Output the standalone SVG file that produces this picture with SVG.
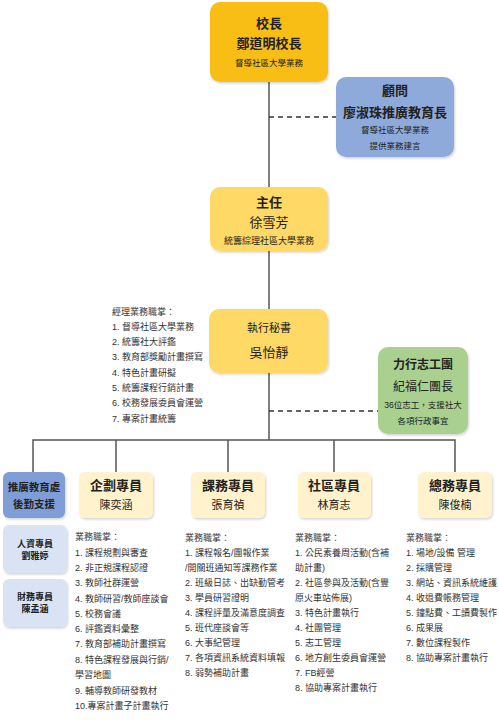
<svg xmlns="http://www.w3.org/2000/svg" width="499" height="720" viewBox="0 0 499 720">
<defs>
<filter id="sh" x="-10%" y="-10%" width="130%" height="130%">
<feDropShadow dx="1" dy="1.5" stdDeviation="1.2" flood-color="#000" flood-opacity="0.18"/>
</filter>
<style>
text{font-family:"Liberation Sans","Noto Sans CJK TC",sans-serif;fill:#222;dominant-baseline:central}
.c{text-anchor:middle}
.b{font-weight:bold}
.t13{font-size:13px}
.t12{font-size:12px}
.t11{font-size:11px}
.t10{font-size:10.5px}
.t9{font-size:9px}
.s{font-size:8.5px}
.li{font-size:9px;fill:#333}
rect{filter:url(#sh)}
.line{stroke:#555;stroke-width:1.5;fill:none}
.dash{stroke:#333;stroke-width:1.5;stroke-dasharray:5,4;fill:none}
</style>
</defs>
<rect x="0" y="0" width="499" height="720" fill="#fff" style="filter:none"/>
<g id="connectors">
<line class="line" x1="269" y1="82" x2="269" y2="440" stroke="#777"/>
<line class="dash" x1="269" y1="117" x2="336" y2="117"/>
<line class="dash" x1="269" y1="411" x2="378" y2="411"/>
<polyline class="line" points="33,472 33,440 455,440 455,472" stroke="#333"/>
<line class="line" x1="116" y1="440" x2="116" y2="472" stroke="#333"/>
<line class="line" x1="228" y1="440" x2="228" y2="472" stroke="#333"/>
<line class="line" x1="334" y1="440" x2="334" y2="472" stroke="#333"/>
</g>
<g id="principal">
<rect x="210" y="2" width="118" height="80" rx="10" fill="#F9BE12"/>
<text class="c b t13" x="269" y="23">校長</text>
<text class="c b t13" x="269" y="43">鄭道明校長</text>
<text class="c s" x="269" y="63">督導社區大學業務</text>
</g>
<g id="advisor">
<rect x="336" y="77" width="118" height="80" rx="10" fill="#8EAADB"/>
<text class="c b t13" x="395" y="90">顧問</text>
<text class="c b t13" x="395" y="112">廖淑珠推廣教育長</text>
<text class="c s" x="395" y="130">督導社區大學業務</text>
<text class="c s" x="395" y="146">提供業務建言</text>
</g>
<g id="director">
<rect x="210" y="187" width="118" height="64" rx="10" fill="#FFD966"/>
<text class="c b t13" x="269" y="202">主任</text>
<text class="c t13" x="269" y="222">徐雪芳</text>
<text class="c t9" x="269" y="241">統籌綜理社區大學業務</text>
</g>
<g id="secretary">
<rect x="209" y="309" width="119" height="64" rx="10" fill="#FFD966"/>
<text class="c t11" x="269" y="328">執行秘書</text>
<text class="c t13" x="269" y="352">吳怡靜</text>
</g>
<g id="secretary-duties">
<text class="li" x="112" y="312">經理業務職掌：</text>
<text class="li" x="112" y="327">1. 督導社區大學業務</text>
<text class="li" x="112" y="342">2. 統籌社大評鑑</text>
<text class="li" x="112" y="357">3. 教育部獎勵計畫撰寫</text>
<text class="li" x="112" y="373">4. 特色計畫研擬</text>
<text class="li" x="112" y="388">5. 統籌課程行銷計畫</text>
<text class="li" x="112" y="403">6. 校務發展委員會運營</text>
<text class="li" x="112" y="419">7. 專案計畫統籌</text>
</g>
<g id="volunteers">
<rect x="378" y="347" width="90" height="87" rx="10" fill="#A9D08E"/>
<text class="c b t12" x="423" y="365">力行志工團</text>
<text class="c t12" x="423" y="387">紀福仁團長</text>
<text class="c s" x="423" y="405">36位志工，支援社大</text>
<text class="c s" x="423" y="421">各項行政事宜</text>
</g>
<g id="support">
<rect x="3" y="472" width="62" height="46" rx="6" fill="#7F9ED8"/>
<text class="c b t10" x="34" y="487">推廣教育處</text>
<text class="c b t10" x="34" y="504">後勤支援</text>
</g>
<g id="hr">
<rect x="3" y="525" width="64" height="48" rx="6" fill="#DAE3F3"/>
<text class="c b t9" x="35" y="544">人資專員</text>
<text class="c b t9" x="35" y="556">劉雅婷</text>
</g>
<g id="finance">
<rect x="3" y="579" width="64" height="48" rx="6" fill="#DAE3F3"/>
<text class="c b t9" x="35" y="597">財務專員</text>
<text class="c b t9" x="35" y="609">陳孟涵</text>
</g>
<g id="planning">
<rect x="79" y="472" width="74" height="46" rx="6" fill="#FFF2CC"/>
<text class="c b t13" x="116" y="485">企劃專員</text>
<text class="c t11" x="116" y="505">陳奕涵</text>
</g>
<g id="planning-duties">
<text class="li" x="75" y="537">業務職掌：</text>
<text class="li" x="75" y="553">1. 課程規劃與審查</text>
<text class="li" x="75" y="568">2. 非正規課程認證</text>
<text class="li" x="75" y="583">3. 教師社群運營</text>
<text class="li" x="75" y="599">4. 教師研習/教師座談會</text>
<text class="li" x="75" y="614">5. 校務會議</text>
<text class="li" x="75" y="629">6. 評鑑資料彙整</text>
<text class="li" x="75" y="644">7. 教育部補助計畫撰寫</text>
<text class="li" x="75" y="660">8. 特色課程發展與行銷/</text>
<text class="li" x="75" y="675">學習地圖</text>
<text class="li" x="75" y="691">9. 輔導教師研發教材</text>
<text class="li" x="75" y="706">10.專案計畫子計畫執行</text>
</g>
<g id="course">
<rect x="191" y="472" width="74" height="46" rx="6" fill="#FFF2CC"/>
<text class="c b t13" x="228" y="485">課務專員</text>
<text class="c t11" x="228" y="505">張育禎</text>
</g>
<g id="course-duties">
<text class="li" x="185" y="538">業務職掌：</text>
<text class="li" x="185" y="553">1. 課程報名/團報作業</text>
<text class="li" x="185" y="568">/開關班通知等課務作業</text>
<text class="li" x="185" y="583">2. 班級日誌、出缺勤管考</text>
<text class="li" x="185" y="598">3. 學員研習證明</text>
<text class="li" x="185" y="613">4. 課程評量及滿意度調查</text>
<text class="li" x="185" y="628">5. 班代座談會等</text>
<text class="li" x="185" y="643">6. 大事紀管理</text>
<text class="li" x="185" y="658">7. 各項資訊系統資料填報</text>
<text class="li" x="185" y="673">8. 弱勢補助計畫</text>
</g>
<g id="community">
<rect x="298" y="472" width="73" height="46" rx="6" fill="#FFF2CC"/>
<text class="c b t13" x="334" y="485">社區專員</text>
<text class="c t11" x="334" y="505">林育志</text>
</g>
<g id="community-duties">
<text class="li" x="295" y="538">業務職掌：</text>
<text class="li" x="295" y="553">1. 公民素養周活動(含補</text>
<text class="li" x="295" y="568">助計畫)</text>
<text class="li" x="295" y="583">2. 社區參與及活動(含豐</text>
<text class="li" x="295" y="598">原火車站佈展)</text>
<text class="li" x="295" y="613">3. 特色計畫執行</text>
<text class="li" x="295" y="628">4. 社團管理</text>
<text class="li" x="295" y="643">5. 志工管理</text>
<text class="li" x="295" y="658">6. 地方創生委員會運營</text>
<text class="li" x="295" y="673">7. FB經營</text>
<text class="li" x="295" y="688">8. 協助專案計畫執行</text>
</g>
<g id="general">
<rect x="418" y="472" width="74" height="46" rx="6" fill="#FFF2CC"/>
<text class="c b t13" x="455" y="485">總務專員</text>
<text class="c t11" x="455" y="505">陳俊楠</text>
</g>
<g id="general-duties">
<text class="li" x="406" y="538">業務職掌：</text>
<text class="li" x="406" y="553">1. 場地/設備 管理</text>
<text class="li" x="406" y="568">2. 採購管理</text>
<text class="li" x="406" y="583">3. 網站、資訊系統維護</text>
<text class="li" x="406" y="598">4. 收退費帳務管理</text>
<text class="li" x="406" y="613">5. 鐘點費、工讀費製作</text>
<text class="li" x="406" y="628">6. 成果展</text>
<text class="li" x="406" y="643">7. 數位課程製作</text>
<text class="li" x="406" y="658">8. 協助專案計畫執行</text>
</g>
</svg>
